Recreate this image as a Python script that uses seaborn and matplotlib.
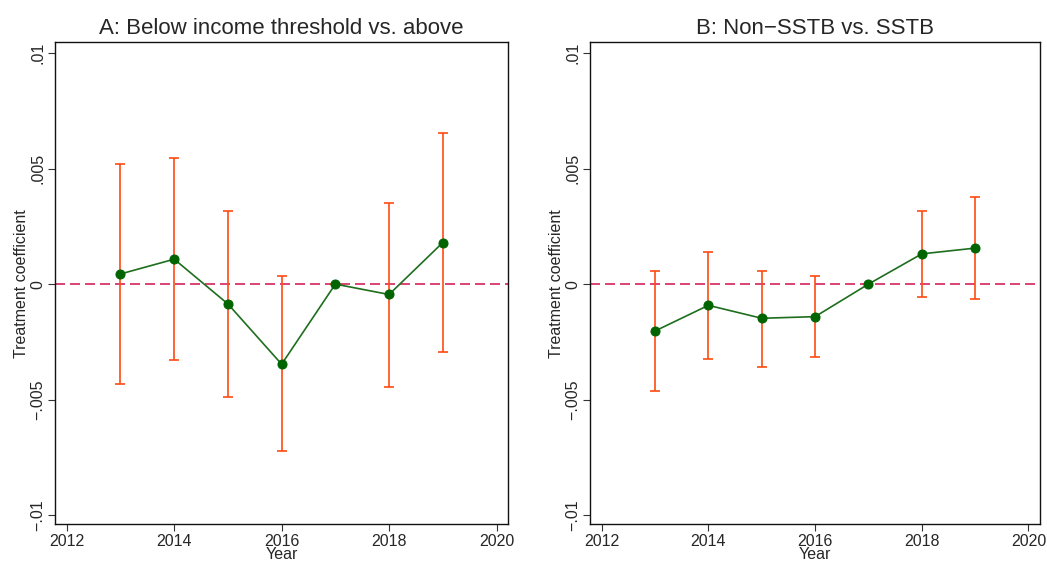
import numpy as np
import pandas as pd
import matplotlib
matplotlib.use("Agg")
import matplotlib.pyplot as plt
import seaborn as sns

years = [2013, 2014, 2015, 2016, 2017, 2018, 2019]

# panel A: below income threshold vs. above
coef_a = [0.00044, 0.00108, -0.00086, -0.00347, 0.0, -0.00045, 0.00180]
lo_a = [-0.00433, -0.00327, -0.00489, -0.00723, 0.0, -0.00444, -0.00292]
hi_a = [0.00520, 0.00545, 0.00317, 0.00033, 0.0, 0.00352, 0.00655]

# panel B: non-SSTB vs. SSTB
coef_b = [-0.00203, -0.00092, -0.00148, -0.00141, 0.0, 0.00131, 0.00156]
lo_b = [-0.00464, -0.00325, -0.00358, -0.00316, 0.0, -0.00055, -0.00066]
hi_b = [0.00056, 0.00141, 0.00058, 0.00036, 0.0, 0.00316, 0.00377]

titles = ["A: Below income threshold vs. above", "B: Non\u2212SSTB vs. SSTB"]
ytick_vals = [-0.01, -0.005, 0, 0.005, 0.01]
ytick_labels = ["\u2212.01", "\u2212.005", "0", ".005", ".01"]
xtick_vals = [2012, 2014, 2016, 2018, 2020]

sns.set_style("ticks")
plt.rcParams["font.family"] = ["Liberation Sans", "DejaVu Sans"]

fig = plt.figure(figsize=(10.47, 5.63), dpi=100)
ax1 = fig.add_axes([0.0525, 0.069, 0.433, 0.856])
ax2 = fig.add_axes([0.5635, 0.069, 0.430, 0.856])

panels = [(ax1, coef_a, lo_a, hi_a), (ax2, coef_b, lo_b, hi_b)]
for i, (ax, coef, lo, hi) in enumerate(panels):
    df = pd.DataFrame({"Year": years, "coef": coef, "lo": lo, "hi": hi})
    ax.axhline(0, color="#d4245a", ls=(0, (6, 3)), lw=1.2, zorder=1)
    err = np.vstack([df["coef"] - df["lo"], df["hi"] - df["coef"]])
    ax.errorbar(df["Year"], df["coef"], yerr=err, fmt="none",
                ecolor="#ff4a12", elinewidth=1.2, capsize=3.5, capthick=1.2, zorder=2)
    sns.lineplot(data=df, x="Year", y="coef", ax=ax, color="#1e6e1e", lw=1.2,
                 marker="o", markersize=6.5, markerfacecolor="#006400",
                 markeredgecolor="#006400", zorder=3)
    ax.set_xlim(2011.78, 2020.22)
    ax.set_ylim(-0.0104, 0.01048)
    ax.set_xticks(xtick_vals)
    ax.set_yticks(ytick_vals)
    ax.set_yticklabels(ytick_labels, rotation=90, va="center")
    ax.tick_params(labelsize=11.5, length=5, width=0.8, color="#333333", pad=2)
    ax.set_xlabel("Year", fontsize=11.5, labelpad=-1)
    ax.set_ylabel("Treatment coefficient", fontsize=11.5, labelpad=1)
    ax.set_title(titles[i], fontsize=16, pad=6)
    for s in ax.spines.values():
        s.set_visible(True)
        s.set_color("#111111")
        s.set_linewidth(1.0)

fig.savefig("out.png", dpi=100)
